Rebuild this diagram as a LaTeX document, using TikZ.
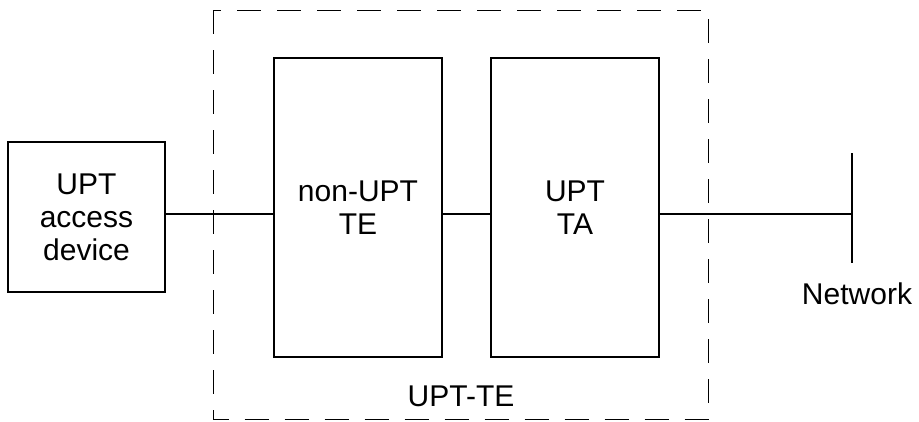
\documentclass[tikz,border=0pt]{standalone}
\usepackage{fontspec}
\setmainfont{Liberation Sans}
\begin{document}
\begin{tikzpicture}[x=1pt,y=-1pt,
  blockbox/.style={draw, line width=1.6pt, minimum width=#1, align=center,
    font=\fontsize{30}{33}\selectfont, inner sep=0pt},
  wire/.style={line width=2.6pt},
  lbl/.style={font=\fontsize{30}{33}\selectfont, inner sep=0pt}]
\useasboundingbox (0,0) rectangle (919,421);
% dashed outline of the UPT terminal equipment
\draw[line width=0.8pt, dash pattern=on 24pt off 16pt] (213.5,10) rectangle (708,419);
\node[lbl] (ute) at (461,396) {UPT-TE};
% functional blocks
\node[blockbox=157pt, minimum height=150pt] (acc) at (86.5,217) {UPT\\access\\device};
\node[blockbox=168pt, minimum height=299pt] (te) at (358,207.5) {non-UPT\\TE};
\node[blockbox=168pt, minimum height=299pt] (ta) at (575,207.5) {UPT\\TA};
% network reference point
\coordinate (nettop) at (852,153);
\coordinate (netbot) at (852,263);
\coordinate (netmid) at (852,214);
\draw[wire] (nettop) -- (netbot);
\node[lbl] (net) at (857,294) {Network};
% connections
\draw[wire] (acc.east |- netmid) -- (te.west |- netmid);
\draw[wire] (te.east |- netmid) -- (ta.west |- netmid);
\draw[wire] (ta.east |- netmid) -- (netmid);
\end{tikzpicture}
\end{document}
